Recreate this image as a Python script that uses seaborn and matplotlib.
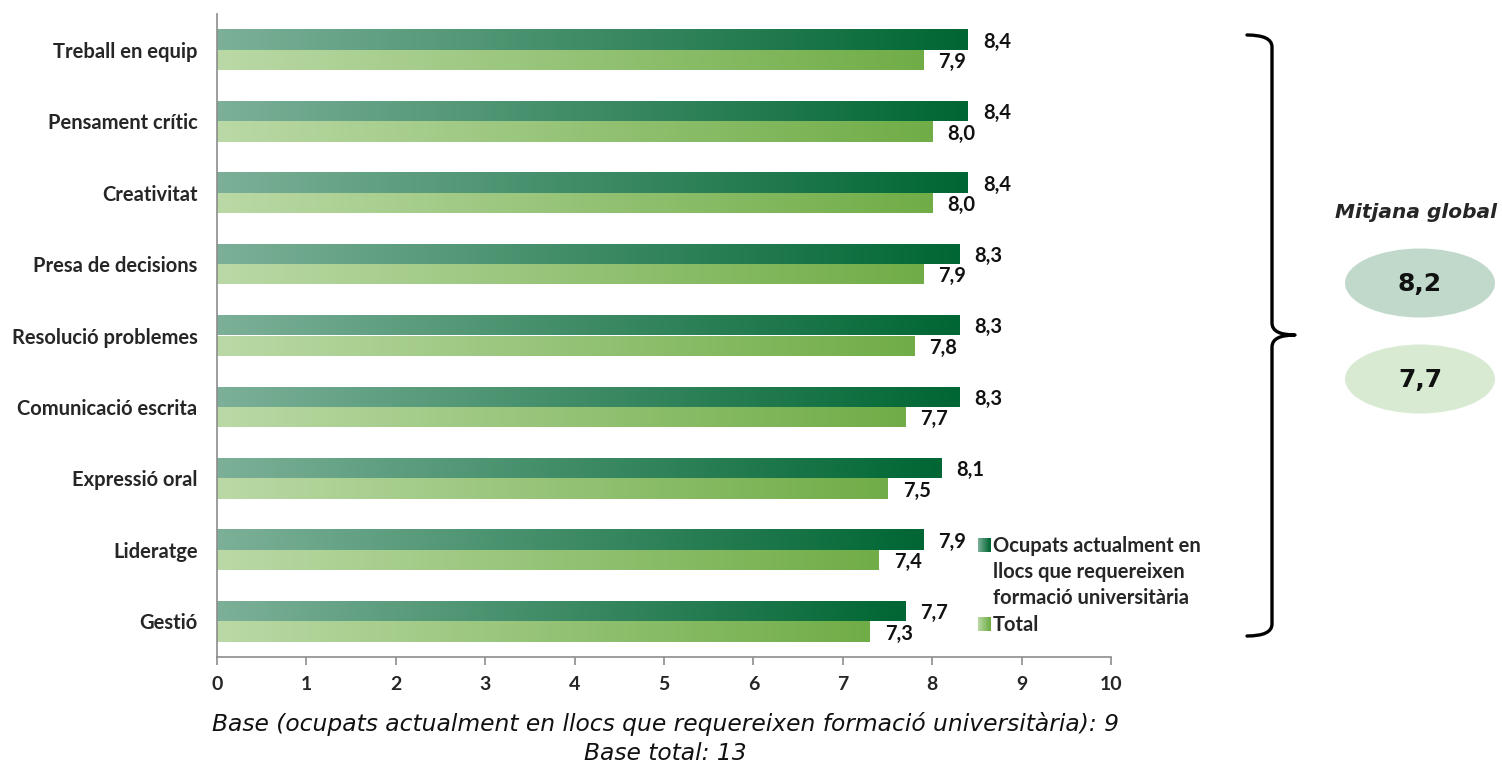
import numpy as np
import pandas as pd
import matplotlib
matplotlib.use("Agg")
import matplotlib.pyplot as plt
import seaborn as sns
from matplotlib.colors import LinearSegmentedColormap, to_hex
from matplotlib.legend_handler import HandlerBase
from matplotlib.patches import Rectangle, Ellipse, PathPatch, Patch
from matplotlib.path import Path
from matplotlib.ticker import FixedLocator

# ---- data -------------------------------------------------------------
competencies = ["Treball en equip", "Pensament crític", "Creativitat",
                "Presa de decisions", "Resolució problemes",
                "Comunicació escrita", "Expressió oral", "Lideratge", "Gestió"]
ocupats = [8.4, 8.4, 8.4, 8.3, 8.3, 8.3, 8.1, 7.9, 7.7]
total = [7.9, 8.0, 8.0, 7.9, 7.8, 7.7, 7.5, 7.4, 7.3]
series_names = ["Ocupats actualment en\nllocs que requereixen\nformació universitària",
                "Total"]
x_ticks = [0, 1, 2, 3, 4, 5, 6, 7, 8, 9, 10]
global_means = [8.2, 7.7]
footer_lines = ["Base (ocupats actualment en llocs que requereixen formació universitària): 9",
                "Base total: 13"]

# ---- style ------------------------------------------------------------
W, H = 1502, 767
sns.set_style("white")
plt.rcParams["font.family"] = ["Lato", "DejaVu Sans"]
FS = 14.5
LEG_LS = 1.38

dark_cmap = LinearSegmentedColormap.from_list("dark", ["#7cb098", "#006633"])
light_cmap = LinearSegmentedColormap.from_list("light", ["#bad9a6", "#70ad47"])
gradients = {series_names[0]: dark_cmap, series_names[1]: light_cmap}
base_colors = {series_names[0]: "#006633", series_names[1]: "#70ad47"}

df = pd.DataFrame({
    "competencia": competencies * 2,
    "valor": ocupats + total,
    "grup": [series_names[0]] * len(competencies) + [series_names[1]] * len(competencies),
})

fig = plt.figure(figsize=(W / 100, H / 100), dpi=100)
ax = fig.add_axes([217 / W, 1 - 657 / H, (1111 - 217) / W, (657 - 14) / H])

sns.barplot(data=df, x="valor", y="competencia", hue="grup", orient="h",
            palette=base_colors, width=0.57, saturation=1, legend=False,
            errorbar=None, ax=ax)

xlim = (0, 10)
ylim = ax.get_ylim()

# replace flat fills with horizontal gradients running along each bar
grad = np.linspace(0, 1, 256).reshape(1, -1)
bars = list(ax.patches)
for bar in bars:
    fc = to_hex(bar.get_facecolor())
    key = series_names[0] if fc == base_colors[series_names[0]] else series_names[1]
    x0, y0 = bar.get_x(), bar.get_y()
    w, h = bar.get_width(), bar.get_height()
    im = ax.imshow(grad, cmap=gradients[key], aspect="auto",
                   extent=(x0, x0 + w, y0 + h, y0), zorder=2, interpolation="bilinear")
    im.set_clip_path(bar)
    bar.set_facecolor("none")
    bar.set_edgecolor("none")
    label = f"{w:.1f}".replace(".", ",")
    ax.text(x0 + w + 0.17, y0 + h / 2 + 0.03, label, ha="left", va="center",
            fontsize=FS, fontweight="bold", color="#111111")

ax.set_xlim(*xlim)
ax.set_ylim(*ylim)
ax.set_xticks(x_ticks)
ax.set_xticklabels([str(t) for t in x_ticks], fontsize=14, fontweight="bold")
ax.set_xlabel("")
ax.set_ylabel("")
for lab in ax.get_yticklabels():
    lab.set_fontweight("bold")
    lab.set_fontsize(FS)
ax.tick_params(axis="y", which="major", length=0, pad=14)
ax.yaxis.set_minor_locator(FixedLocator(np.arange(-0.5, len(competencies), 1)))
ax.tick_params(axis="y", which="minor", length=6, color="#8c8c8c", width=1.2)
ax.tick_params(axis="x", which="major", length=6, color="#8c8c8c", width=1.2,
               direction="out", bottom=True, pad=8)
sns.despine(ax=ax, top=True, right=True)
for side in ("left", "bottom"):
    ax.spines[side].set_color("#8c8c8c")
    ax.spines[side].set_linewidth(1.2)


# ---- legend with gradient swatches ---------------------------------------
class GradientHandler(HandlerBase):
    def __init__(self, cmap, lift_lines=0.0):
        super().__init__()
        self.cmap = cmap
        self.lift_lines = lift_lines

    def create_artists(self, legend, orig_handle, xdescent, ydescent,
                       width, height, fontsize, trans):
        n = 12
        lift = self.lift_lines * fontsize * LEG_LS
        arts = []
        for i in range(n):
            r = Rectangle((-xdescent + width * i / n, -ydescent + lift), width / n + 0.3, height,
                          facecolor=self.cmap((i + 0.5) / n), edgecolor="none",
                          transform=trans)
            arts.append(r)
        return arts


handles = [Patch(label=s) for s in series_names]
leg = ax.legend(handles=handles, labels=series_names,
                handler_map={handles[0]: GradientHandler(dark_cmap, lift_lines=1.0),
                             handles[1]: GradientHandler(light_cmap)},
                loc="upper left", bbox_to_anchor=(978 / W, 1 - 536 / H),
                bbox_transform=fig.transFigure, frameon=False,
                prop={"weight": "bold", "size": FS},
                handlelength=0.62, handleheight=0.68, handletextpad=0.12,
                labelspacing=0.36, borderpad=0, borderaxespad=0)
for t in leg.get_texts():
    t.set_linespacing(LEG_LS)

# ---- overlay in pixel coordinates for brace, means and footer -----------
ov = fig.add_axes([0, 0, 1, 1], zorder=5)
ov.set_xlim(0, W)
ov.set_ylim(H, 0)
ov.axis("off")
ov.patch.set_alpha(0)

xv, xl, xt = 1272, 1247, 1295
yt, ym, yb = 35, 335, 636
verts = [(xl, yt), (xv, yt), (xv, yt + 12),
         (xv, ym - 12),
         (xv, ym), (xt, ym),
         (xv, ym), (xv, ym + 12),
         (xv, yb - 12),
         (xv, yb), (xl, yb)]
codes = [Path.MOVETO, Path.CURVE3, Path.CURVE3,
         Path.LINETO,
         Path.CURVE3, Path.CURVE3,
         Path.CURVE3, Path.CURVE3,
         Path.LINETO,
         Path.CURVE3, Path.CURVE3]
ov.add_patch(PathPatch(Path(verts, codes), facecolor="none", edgecolor="black",
                       linewidth=2.4, capstyle="round", joinstyle="round"))

ov.text(1416, 213, "Mitjana global", ha="center", va="center",
        fontsize=14.5, fontweight="bold", fontstyle="italic", family="DejaVu Sans")
ell_colors = ["#c0d9cb", "#d9ead3"]
ell_centers = [283, 379]
for val, col, cy in zip(global_means, ell_colors, ell_centers):
    ov.add_patch(Ellipse((1420, cy), 150, 69, facecolor=col, edgecolor="none"))
    ov.text(1420, cy + 1, f"{val:.1f}".replace(".", ","), ha="center", va="center",
            fontsize=18, fontweight="bold", family="DejaVu Sans", color="#111111")

for line, cy in zip(footer_lines, [724, 753]):
    ov.text(665, cy, line, ha="center", va="center", fontsize=16.8,
            fontstyle="italic", family="DejaVu Sans", color="#111111")

fig.savefig("out.png", dpi=100)
